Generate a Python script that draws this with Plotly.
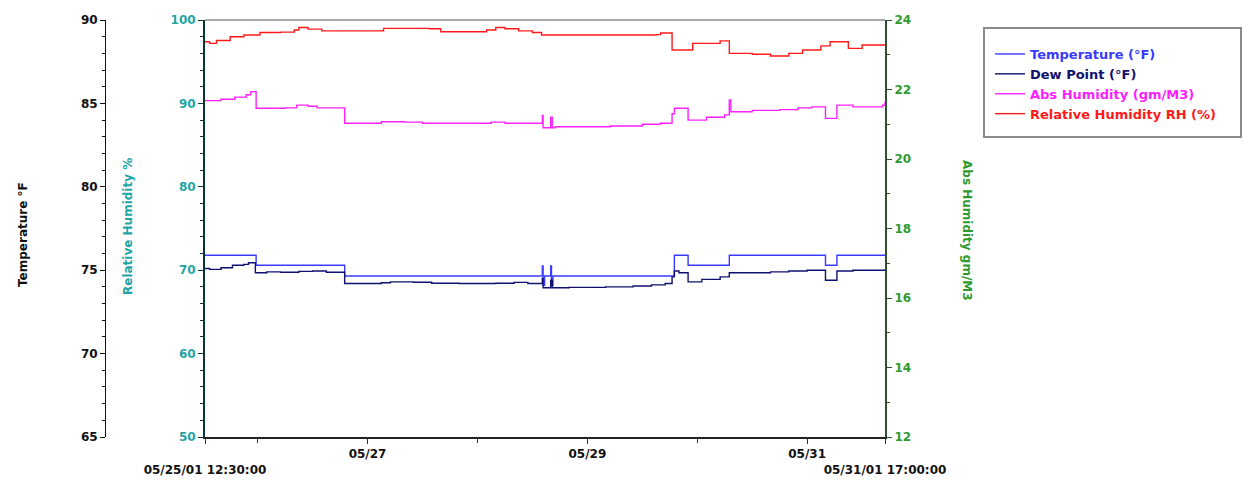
import plotly.graph_objects as go

# ---------------- data ----------------
temp_time = ["2001-05-25 12:30", "2001-05-25 23:40", "2001-05-26 19:00",
             "2001-05-28 14:10", "2001-05-28 14:20", "2001-05-28 14:40",
             "2001-05-28 16:00", "2001-05-28 16:10", "2001-05-28 16:30",
             "2001-05-29 19:00", "2001-05-29 22:00", "2001-05-30 07:00",
             "2001-05-31 04:00", "2001-05-31 06:30", "2001-05-31 17:00"]
temp_val = [75.9, 75.3, 74.65,
            75.25, 74.1, 74.65,
            75.25, 74.1, 74.65,
            75.9, 75.3, 75.9,
            75.3, 75.9, 75.9]

dew_time = ["2001-05-25 12:30", "2001-05-25 13:30", "2001-05-25 16:00", "2001-05-25 18:30",
            "2001-05-25 21:00", "2001-05-25 22:00", "2001-05-25 23:30", "2001-05-26 02:00",
            "2001-05-26 05:00", "2001-05-26 09:00", "2001-05-26 12:00", "2001-05-26 15:00",
            "2001-05-26 19:00", "2001-05-27 03:00", "2001-05-27 05:00", "2001-05-27 10:00",
            "2001-05-27 14:00", "2001-05-27 20:00", "2001-05-28 04:00", "2001-05-28 08:00",
            "2001-05-28 11:00", "2001-05-28 14:10", "2001-05-28 14:20", "2001-05-28 16:00",
            "2001-05-28 16:20", "2001-05-28 20:00", "2001-05-29 04:00", "2001-05-29 10:00",
            "2001-05-29 14:00", "2001-05-29 17:00", "2001-05-29 18:30", "2001-05-29 19:00",
            "2001-05-29 20:00", "2001-05-29 22:00", "2001-05-30 01:00", "2001-05-30 05:00",
            "2001-05-30 07:00", "2001-05-30 12:00", "2001-05-30 16:00", "2001-05-30 20:00",
            "2001-05-31 00:00", "2001-05-31 04:00", "2001-05-31 06:30", "2001-05-31 10:00",
            "2001-05-31 17:00"]
dew_val = [75.1, 75.05, 75.15, 75.3,
           75.35, 75.45, 74.85, 74.9,
           74.88, 74.93, 74.95, 74.88,
           74.2, 74.25, 74.3, 74.28,
           74.22, 74.2, 74.22, 74.27,
           74.2, 74.5, 73.95, 74.4,
           73.95, 73.97, 74.0, 74.05,
           74.12, 74.2, 74.6, 74.95,
           74.85, 74.3, 74.45, 74.6,
           74.85, 74.85, 74.9, 74.95,
           75.0, 74.4, 74.95, 75.0,
           75.05]

abs_time = ["2001-05-25 12:30", "2001-05-25 16:00", "2001-05-25 19:00", "2001-05-25 21:30",
            "2001-05-25 22:30", "2001-05-25 23:40", "2001-05-26 06:00", "2001-05-26 08:30",
            "2001-05-26 11:00", "2001-05-26 13:00", "2001-05-26 19:00", "2001-05-27 03:00",
            "2001-05-27 08:00", "2001-05-27 12:00", "2001-05-27 20:00", "2001-05-28 03:00",
            "2001-05-28 06:00", "2001-05-28 14:10", "2001-05-28 14:20", "2001-05-28 16:00",
            "2001-05-28 16:20", "2001-05-28 17:00", "2001-05-29 05:00", "2001-05-29 12:00",
            "2001-05-29 16:00", "2001-05-29 18:30", "2001-05-29 19:00", "2001-05-29 22:00",
            "2001-05-30 02:00", "2001-05-30 06:00", "2001-05-30 07:00", "2001-05-30 07:20",
            "2001-05-30 12:00", "2001-05-30 18:00", "2001-05-30 22:00", "2001-05-31 01:00",
            "2001-05-31 04:00", "2001-05-31 06:30", "2001-05-31 10:00", "2001-05-31 16:30",
            "2001-05-31 17:00"]
abs_val = [21.68, 21.72, 21.78, 21.85,
           21.94, 21.46, 21.47, 21.55,
           21.52, 21.47, 21.03, 21.07,
           21.06, 21.03, 21.03, 21.06,
           21.03, 21.25, 20.9, 21.2,
           20.9, 20.93, 20.95, 21.0,
           21.03, 21.3, 21.46, 21.12,
           21.2, 21.27, 21.7, 21.36,
           21.4, 21.42, 21.47, 21.5,
           21.17, 21.55, 21.5, 21.55,
           21.65]

rh_time = ["2001-05-25 12:30", "2001-05-25 13:30", "2001-05-25 15:00", "2001-05-25 18:00",
           "2001-05-25 21:00", "2001-05-26 00:30", "2001-05-26 05:00", "2001-05-26 08:00",
           "2001-05-26 09:00", "2001-05-26 11:00", "2001-05-26 14:00", "2001-05-27 03:00",
           "2001-05-27 03:30", "2001-05-27 13:30", "2001-05-27 16:00", "2001-05-27 20:00",
           "2001-05-28 02:00", "2001-05-28 04:00", "2001-05-28 06:00", "2001-05-28 09:00",
           "2001-05-28 12:00", "2001-05-28 14:00", "2001-05-29 15:00", "2001-05-29 16:00",
           "2001-05-29 18:30", "2001-05-29 23:00", "2001-05-30 05:00", "2001-05-30 07:00",
           "2001-05-30 12:00", "2001-05-30 16:00", "2001-05-30 20:00", "2001-05-30 23:00",
           "2001-05-31 03:00", "2001-05-31 05:00", "2001-05-31 09:00", "2001-05-31 12:00",
           "2001-05-31 17:00"]
rh_val = [97.4, 97.2, 97.55, 98.0,
          98.2, 98.5, 98.55, 98.8,
          99.1, 98.9, 98.7, 98.72,
          99.0, 98.95, 98.6, 98.6,
          98.8, 99.1, 98.95, 98.7,
          98.5, 98.2, 98.25, 98.45,
          96.4, 97.2, 97.5, 96.0,
          95.9, 95.68, 96.0, 96.4,
          96.9, 97.4, 96.6, 97.0,
          97.0]

series_names = ["Temperature (°F)", "Dew Point (°F)", "Abs Humidity (gm/M3)", "Relative Humidity RH (%)"]
series_colors = ["#3a3aff", "#101070", "#ff20ff", "#ff1a1a"]

x_start = "2001-05-25 12:30:00"
x_end = "2001-05-31 17:00:00"
x_tickvals = [x_start, "2001-05-27", "2001-05-29", "2001-05-31", x_end]
x_ticktext = ["<br>05/25/01 12:30:00", "05/27", "05/29", "05/31", "<br>05/31/01 17:00:00"]
x_minor = ["2001-05-26", "2001-05-28", "2001-05-30"]

# ---------------- figure ----------------
W, H = 1243, 481
FONT = "DejaVu Sans"
teal = "#1fa5a5"
green = "#2e9a2e"

def px_x(p):
    return p / W

def px_y(p):
    return 1 - p / H

fig = go.Figure()
data = [(temp_time, temp_val, "y"), (dew_time, dew_val, "y"),
        (abs_time, abs_val, "y3"), (rh_time, rh_val, "y2")]
for (t, v, ax), name, col in zip(data, series_names, series_colors):
    fig.add_trace(go.Scatter(
        x=t, y=v, yaxis=ax, mode="lines", line=dict(color=col, width=1.4, shape="hv"),
        name=f"<span style='color:{col}'>{name}</span>"))

xdom = [px_x(205), px_x(885)]
ydom = [px_y(437), px_y(20)]

fig.update_layout(
    width=W, height=H,
    margin=dict(l=0, r=0, t=0, b=0, autoexpand=False),
    paper_bgcolor="white", plot_bgcolor="white",
    showlegend=True,
    legend=dict(x=px_x(990), y=px_y(39), xanchor="left", yanchor="top",
                bgcolor="rgba(0,0,0,0)", borderwidth=0,
                font=dict(family=FONT, size=13, weight="bold"),
                itemwidth=30, tracegroupgap=0),
    xaxis=dict(domain=xdom, range=[x_start, x_end], type="date", automargin=False,
               tickmode="array", tickvals=x_tickvals, ticktext=x_ticktext, tickangle=0,
               ticks="outside", ticklen=5, tickcolor="#333", showgrid=False,
               showline=True, linecolor="#222", linewidth=2,
               tickfont=dict(family=FONT, size=12, weight="bold", color="#111"),
               minor=dict(tickmode="array", tickvals=x_minor, ticks="outside",
                          ticklen=4, tickcolor="#333", showgrid=False),
               anchor="y", zeroline=False),
    yaxis=dict(domain=ydom, range=[65, 90], dtick=5, anchor="free", position=px_x(105),
               side="left", showline=True, linecolor="#111", linewidth=1, automargin=False,
               ticks="outside", ticklen=5, tickcolor="#111", showgrid=False, zeroline=False,
               tickfont=dict(family=FONT, size=12, weight="bold", color="#111"),
               minor=dict(dtick=1, ticks="outside", ticklen=3, tickcolor="#111", showgrid=False)),
    yaxis2=dict(domain=ydom, range=[50, 100], dtick=10, overlaying="y", anchor="x",
                side="left", showline=True, linecolor="#0d3535", linewidth=2, automargin=False,
                ticks="outside", ticklen=5, tickcolor="#0d3535", showgrid=False, zeroline=False,
                tickfont=dict(family=FONT, size=12, weight="bold", color=teal),
                minor=dict(dtick=2, ticks="outside", ticklen=3, tickcolor="#0d3535", showgrid=False)),
    yaxis3=dict(domain=ydom, range=[12, 24], dtick=2, overlaying="y", anchor="x",
                side="right", showline=True, linecolor="#2f4f2f", linewidth=2, automargin=False,
                ticks="outside", ticklen=5, tickcolor="#2f4f2f", showgrid=False, zeroline=False,
                tickfont=dict(family=FONT, size=12, weight="bold", color=green),
                minor=dict(dtick=1, ticks="outside", ticklen=3, tickcolor="#2f4f2f", showgrid=False)),
)

# top frame edge and legend box
fig.add_shape(type="line", xref="paper", yref="paper", x0=xdom[0], x1=xdom[1],
              y0=ydom[1], y1=ydom[1], line=dict(color="#a8a8a8", width=2))
fig.add_shape(type="rect", xref="paper", yref="paper", x0=px_x(984), x1=px_x(1241),
              y0=px_y(137), y1=px_y(28), line=dict(color="#8a8a8a", width=2),
              fillcolor="rgba(0,0,0,0)")

# axis titles
fig.add_annotation(text="Temperature °F", x=px_x(14), y=px_y(235), xref="paper", yref="paper",
                   textangle=-90, showarrow=False,
                   font=dict(family=FONT, size=12, weight="bold", color="#111"))
fig.add_annotation(text="Relative Humidity %", x=px_x(119), y=px_y(227), xref="paper", yref="paper",
                   textangle=-90, showarrow=False,
                   font=dict(family=FONT, size=12, weight="bold", color=teal))
fig.add_annotation(text="Abs Humidity gm/M3", x=px_x(976), y=px_y(230), xref="paper", yref="paper",
                   textangle=90, showarrow=False,
                   font=dict(family=FONT, size=12, weight="bold", color=green))

fig.write_html("out.html")
